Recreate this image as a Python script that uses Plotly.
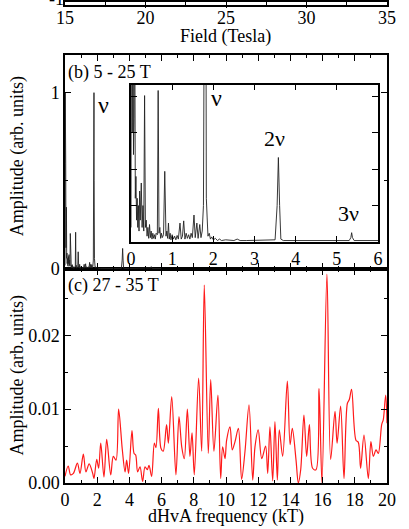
import plotly.graph_objects as go

# ---------------- data ----------------
# panel (b): FFT spectrum 5-25 T (frequency in kT, amplitude arb. units)
spec_b_freq = [0.00, 0.015, 0.03, 0.045, 0.06, 0.075, 0.09, 0.105, 0.12, 0.135, 0.15, 0.165,
               0.18, 0.195, 0.21, 0.225, 0.25, 0.27, 0.29, 0.31, 0.33, 0.35, 0.37, 0.39,
               0.41, 0.43, 0.45, 0.47, 0.49, 0.51, 0.53, 0.55, 0.57, 0.59, 0.61, 0.64,
               0.66, 0.68, 0.70, 0.72, 0.74, 0.76, 0.79, 0.82, 0.85, 0.87, 0.89, 0.91,
               0.93, 0.95, 0.97, 1.00, 1.03, 1.06, 1.09, 1.12, 1.15, 1.19, 1.22, 1.25,
               1.28, 1.31, 1.34, 1.37, 1.40, 1.43, 1.46, 1.49, 1.53, 1.56, 1.60, 1.63,
               1.67, 1.70, 1.73, 1.76, 1.79, 1.80, 1.81, 1.83, 1.85, 1.87, 1.90, 1.93,
               1.96, 2.00, 2.05, 2.10, 2.15, 2.20, 2.30, 2.40, 2.50, 2.58, 2.65, 2.80,
               3.00, 3.20, 3.40, 3.50, 3.55, 3.58, 3.61, 3.64, 3.70, 4.00, 4.50, 5.00,
               5.30, 5.34, 5.36, 5.38, 5.42, 6.00]
spec_b_amp = [0.02, 1.00, 0.15, 0.60, 0.12, 0.17, 0.35, 0.06, 0.09, 0.03, 0.06, 0.02,
              0.05, 0.015, 0.07, 0.03, 0.081, 0.02, 0.05, 0.015, 0.201, 0.02, 0.03, 0.008,
              0.02, 0.005, 0.024, 0.006, 0.015, 0.004, 0.012, 0.005, 0.010, 0.004, 0.012, 0.010,
              0.208, 0.012, 0.020, 0.005, 0.012, 0.006, 0.010, 0.097, 0.008, 0.015, 0.005, 0.026,
              0.004, 0.012, 0.003, 0.010, 0.004, 0.008, 0.003, 0.009, 0.004, 0.026, 0.004, 0.008,
              0.029, 0.004, 0.012, 0.005, 0.010, 0.004, 0.012, 0.006, 0.037, 0.006, 0.026, 0.005,
              0.024, 0.006, 0.015, 0.050, 0.500, 1.000, 0.500, 0.060, 0.033, 0.008, 0.012, 0.004,
              0.007, 0.003, 0.005, 0.002, 0.004, 0.002, 0.003, 0.002, 0.002, 0.004, 0.002, 0.002,
              0.002, 0.002, 0.002, 0.003, 0.050, 0.116, 0.050, 0.004, 0.002, 0.002, 0.002, 0.002,
              0.002, 0.006, 0.0128, 0.006, 0.002, 0.002]

# panel (c): FFT spectrum 27-35 T
spec_c_freq = [0.00, 0.20, 0.35, 0.52, 0.77, 0.93, 1.14, 1.30, 1.50, 1.72, 1.80, 1.97, 2.09,
               2.22, 2.42, 2.59, 2.84, 3.00, 3.17, 3.33, 3.56, 3.73, 3.83, 3.95, 4.16, 4.29,
               4.39, 4.51, 4.66, 4.82, 4.97, 5.11, 5.22, 5.38, 5.55, 5.65, 5.80, 5.96, 6.10,
               6.31, 6.42, 6.63, 6.89, 7.08, 7.25, 7.41, 7.60, 7.76, 7.89, 8.03, 8.30, 8.49,
               8.65, 8.90, 9.05, 9.25, 9.50, 9.67, 9.79, 9.94, 10.04, 10.25, 10.39, 10.56,
               10.77, 10.97, 11.18, 11.43, 11.66, 11.80, 12.00, 12.22, 12.46, 12.59, 12.73,
               12.90, 13.04, 13.19, 13.31, 13.52, 13.81, 13.98, 14.12, 14.35, 14.49, 14.64,
               14.84, 15.01, 15.18, 15.38, 15.59, 15.78, 15.96, 16.27, 16.50, 16.77, 16.90,
               17.12, 17.33, 17.54, 17.66, 17.80, 18.07, 18.22, 18.36, 18.57, 18.84, 19.00,
               19.15, 19.32, 19.46, 19.67, 19.77, 19.92, 20.00]
spec_c_amp = [0.0009, 0.0023, 0.0011, 0.0013, 0.0027, 0.0013, 0.0039, 0.0015, 0.0026, 0.0013,
              0.0006, 0.0032, 0.0020, 0.0054, 0.0008, 0.0059, 0.0011, 0.0036, 0.0031, 0.0100,
              0.0045, 0.0015, 0.0031, 0.0013, 0.0071, 0.0040, 0.0038, 0.0015, 0.0022, 0.0002,
              0.0022, 0.0018, 0.0024, 0.0009, 0.0054, 0.0048, 0.0101, 0.0047, 0.0043, 0.0079,
              0.0054, 0.0117, 0.0011, 0.0090, 0.0049, 0.0033, 0.0100, 0.0036, 0.0068, 0.0011,
              0.0142, 0.0043, 0.0268, 0.0040, 0.0140, 0.0043, 0.0119, 0.0006, 0.0049, 0.0033,
              0.0058, 0.0076, 0.0045, 0.0056, 0.0074, 0.0005, 0.0043, 0.0106, 0.0004, 0.0049,
              0.0072, 0.0033, 0.0050, 0.0013, 0.0076, 0.0003, 0.0083, 0.0004, 0.0072, 0.0036,
              0.0138, 0.0052, 0.0074, 0.0031, 0.0000, 0.0018, 0.0092, 0.0036, 0.0079, 0.0020,
              0.0018, 0.0128, 0.0000, 0.0283, 0.0032, 0.0097, 0.0054, 0.0104, 0.0006, 0.0108,
              0.0113, 0.0127, 0.0058, 0.0055, 0.0020, 0.0065, 0.0006, 0.0056, 0.0036, 0.0045,
              0.0040, 0.0079, 0.0086, 0.0119, 0.0081]

freq_ticks = [0, 2, 4, 6, 8, 10, 12, 14, 16, 18, 20]
inset_ticks = [0, 1, 2, 3, 4, 5, 6]
field_ticks = [15, 20, 25, 30, 35]

FONT = "Liberation Serif, Times New Roman, Times, DejaVu Serif, serif"
BLACK = "black"

fig = go.Figure()

# panel (c)
fig.add_trace(go.Scatter(x=spec_c_freq, y=spec_c_amp, mode="lines",
                         line=dict(color="#ff1a1a", width=1.2, shape="spline", smoothing=0.9),
                         xaxis="x", yaxis="y", showlegend=False))
# panel (b) main
fig.add_trace(go.Scatter(x=spec_b_freq, y=spec_b_amp, mode="lines",
                         line=dict(color="#222222", width=0.9), xaxis="x2", yaxis="y2",
                         showlegend=False))
# panel (b) inset
fig.add_trace(go.Scatter(x=spec_b_freq, y=spec_b_amp, mode="lines",
                         line=dict(color="#222222", width=0.9), xaxis="x4", yaxis="y4",
                         showlegend=False))
# panel (a) remnant (empty axis frame)
fig.add_trace(go.Scatter(x=[15, 35], y=[-2, -2], mode="lines", line=dict(color="black"),
                         xaxis="x3", yaxis="y3", showlegend=False))

H = 483.0  # plot-area height in px (paper)
def py(px):
    return (H - px) / H
def pxx(px):
    return (px - 65) / 322.0

axis_common = dict(showline=True, linecolor=BLACK, linewidth=1.5, mirror="ticks",
                   ticks="inside", tickcolor=BLACK, tickwidth=1.2, ticklen=6,
                   showgrid=False, zeroline=False,
                   tickfont=dict(family=FONT, size=18, color=BLACK))

fig.update_layout(
    width=409, height=529,
    margin=dict(l=65, r=22, t=0, b=46),
    paper_bgcolor="white", plot_bgcolor="white",
    font=dict(family=FONT, size=18, color=BLACK),
    xaxis=dict(axis_common, domain=[0, 1], range=[0, 20], tickvals=freq_ticks,
               minor=dict(dtick=1, ticks="inside", ticklen=3, tickcolor=BLACK), anchor="y"),
    yaxis=dict(axis_common, domain=[0, py(268)], range=[0, 0.0290],
               tickvals=[0, 0.01, 0.02], ticktext=["0.00", "0.01", "0.02"],
               minor=dict(tickvals=[0.005, 0.015, 0.025], ticks="inside", ticklen=3,
                          tickcolor=BLACK), anchor="x"),
    xaxis2=dict(axis_common, domain=[0, 1], range=[0, 20], tickvals=freq_ticks,
                showticklabels=False,
                minor=dict(dtick=1, ticks="inside", ticklen=3, tickcolor=BLACK), anchor="y2"),
    yaxis2=dict(axis_common, domain=[py(268), py(53)], range=[0, 1.215],
                tickvals=[0, 1], ticktext=["0", "1"],
                minor=dict(tickvals=[0.5], ticks="inside", ticklen=3, tickcolor=BLACK),
                anchor="x2"),
    xaxis3=dict(axis_common, domain=[0, 1], range=[15, 35], tickvals=field_ticks,
                ticklabelstandoff=-4,
                minor=dict(dtick=2.5, ticks="inside", ticklen=3, tickcolor=BLACK), anchor="y3"),
    yaxis3=dict(axis_common, domain=[py(3), 1], range=[-1, -0.99], tickvals=[-1],
                showticklabels=False, anchor="x3"),
    xaxis4=dict(axis_common, domain=[pxx(131), pxx(378)], range=[0, 6], tickvals=inset_ticks,
                anchor="y4"),
    yaxis4=dict(axis_common, domain=[py(241), py(83)], range=[0, 0.216],
                tickvals=[0, 0.05, 0.1, 0.15, 0.2], showticklabels=False, anchor="x4"),
)

ann = []
def add(text, x, y, xref="paper", yref="paper", size=18, xanchor="center", angle=0):
    ann.append(dict(text=text, x=x, y=y, xref=xref, yref=yref, showarrow=False,
                    xanchor=xanchor, yanchor="middle", textangle=angle,
                    font=dict(family=FONT, size=size, color=BLACK)))

add("(b) 5 - 25 T", pxx(66), py(71), xanchor="left")
add("(c) 27 - 35 T", pxx(66), py(285), xanchor="left")
add("Amplitude (arb. units)", pxx(17), py(155), angle=-90)
add("Amplitude (arb. units)", pxx(17), py(375), angle=-90)
add("dHvA frequency (kT)", pxx(226), py(517))
add("Field (Tesla)", pxx(225), py(35))
add("-1", pxx(56), py(-3))
add("\u03bd", 2.36, 0.93, "x2", "y2", size=24)
add("\u03bd", 2.07, 0.197, "x4", "y4", size=24)
add("2\u03bd", 3.49, 0.1425, "x4", "y4", size=22)
add("3\u03bd", 5.29, 0.0397, "x4", "y4", size=22)
fig.update_layout(annotations=ann)

fig.write_html("out.html", config={"displayModeBar": False},
               post_script="document.body.style.margin='0';document.body.style.overflow='hidden';")
